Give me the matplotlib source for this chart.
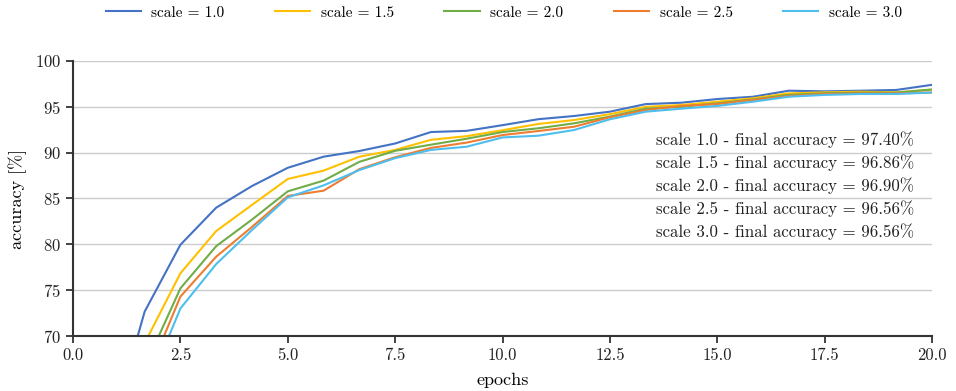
import numpy as np
import matplotlib
matplotlib.use("Agg")
import matplotlib.pyplot as plt

plt.rcParams['font.family'] = ['cmr10', 'DejaVu Serif']
plt.rcParams['mathtext.fontset'] = 'cm'
plt.rcParams['axes.formatter.use_mathtext'] = True

epochs = [k * 20 / 24 for k in range(1, 25)]
scales = ["1.0", "1.5", "2.0", "2.5", "3.0"]
acc_10 = [58.9, 72.65, 79.95, 84.0, 86.36, 88.35, 89.56, 90.18, 91.0, 92.25, 92.38, 93.0,
          93.65, 94.0, 94.47, 95.3, 95.45, 95.85, 96.1, 96.76, 96.69, 96.76, 96.84, 97.40]
acc_15 = [55.0, 69.2, 76.84, 81.45, 84.3, 87.13, 88.04, 89.56, 90.3, 91.4, 91.8, 92.45,
          93.13, 93.56, 94.2, 95.0, 95.2, 95.56, 95.93, 96.47, 96.58, 96.65, 96.58, 96.86]
acc_20 = [53.0, 66.6, 75.2, 79.8, 82.7, 85.78, 86.95, 89.0, 90.2, 90.87, 91.52, 92.25,
          92.66, 93.2, 93.93, 94.8, 95.0, 95.38, 95.8, 96.3, 96.47, 96.55, 96.55, 96.90]
acc_25 = [52.0, 64.9, 74.3, 78.65, 81.9, 85.28, 85.85, 88.2, 89.5, 90.52, 91.1, 91.92,
          92.36, 92.83, 93.86, 94.65, 95.1, 95.3, 95.75, 96.18, 96.4, 96.47, 96.47, 96.56]
acc_30 = [51.0, 63.6, 73.0, 77.85, 81.56, 85.12, 86.43, 88.1, 89.4, 90.3, 90.65, 91.66,
          91.85, 92.47, 93.64, 94.47, 94.8, 95.1, 95.56, 96.1, 96.3, 96.4, 96.4, 96.56]
series = [acc_10, acc_15, acc_20, acc_25, acc_30]
colors = ['#4472C4', '#FFC000', '#70AD47', '#ED7D31', '#4DBEEE']

fig = plt.figure(figsize=(9.56, 3.91), dpi=100)
ax = fig.add_axes([0.0764, 0.1407, 0.8985, 0.7033])

for s, vals, c in zip(scales, series, colors):
    ax.plot(epochs, vals, color=c, lw=1.5, label=f"scale = {s}")

ax.set_xlim(0, 20)
ax.set_ylim(70, 100)
ax.set_xticks(np.arange(0, 20.01, 2.5))
ax.set_yticks(np.arange(70, 100.1, 5))
ax.xaxis.set_major_formatter(matplotlib.ticker.FormatStrFormatter('%.1f'))
ax.yaxis.grid(True, color='#cccccc', lw=1)
ax.set_axisbelow(True)
for sp in ['top', 'right']:
    ax.spines[sp].set_visible(False)
for sp in ['left', 'bottom']:
    ax.spines[sp].set_color('#333333')
    ax.spines[sp].set_linewidth(1.5)
ax.tick_params(axis='both', labelsize=12, colors='#222222', width=1.2, length=5)
ax.set_xlabel('epochs', fontsize=13, labelpad=7)
ax.set_ylabel('accuracy [%]', fontsize=13, labelpad=6)

for i, (s, vals) in enumerate(zip(scales, series)):
    ax.text(0.979, 0.713 - i * 0.0835, f"scale {s} - final accuracy = {vals[-1]:.2f}%",
            transform=ax.transAxes, ha='right', va='center', fontsize=12.2, color='#222222')

fig.legend(loc='upper center', bbox_to_anchor=(0.527, 1.02), ncol=5, frameon=False,
           fontsize=11, handlelength=2.3, handletextpad=0.7, columnspacing=3.3)

fig.savefig('out.png', dpi=100)
